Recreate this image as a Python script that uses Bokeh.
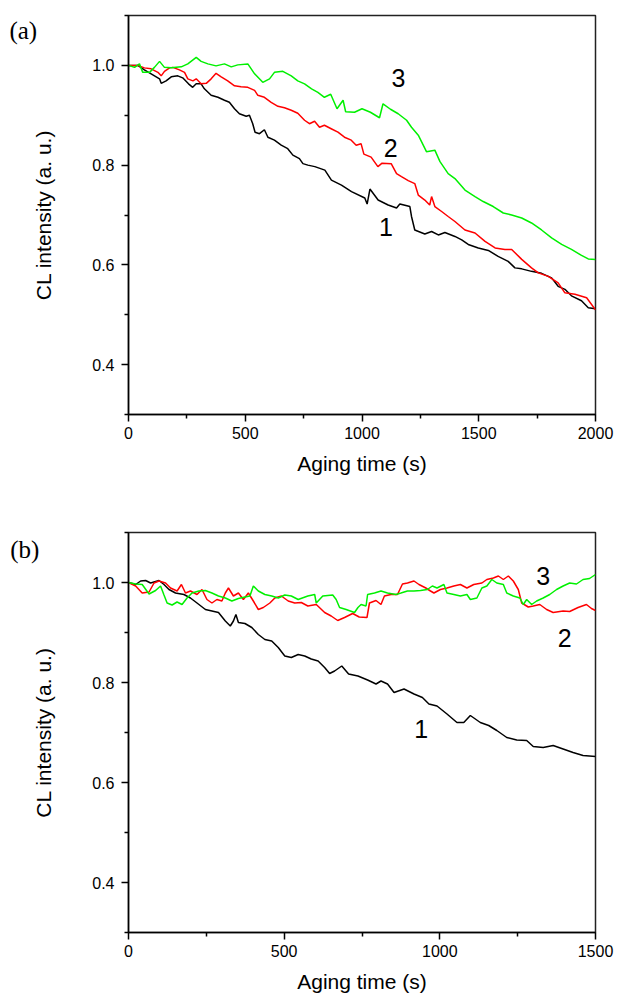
from bokeh.plotting import figure
from bokeh.layouts import column
from bokeh.models import FixedTicker, Range1d, Label, PrintfTickFormatter
from bokeh.embed import file_html
from bokeh.resources import INLINE
from bokeh.core.properties import value

# ---------------- Panel (a) data ----------------
a1_t = [0, 40, 68, 97, 133, 140, 161, 183, 211, 232, 257, 275, 290, 311, 325, 354, 383, 411, 432, 454,
        475, 504, 518, 532, 542, 561, 582, 597, 625, 654, 682, 704, 732, 747, 768, 798, 841, 869, 912, 955,
        1012, 1022, 1034, 1069, 1112, 1148, 1162, 1205, 1212, 1226, 1269, 1298, 1327, 1355, 1398, 1427, 1455,
        1498, 1541, 1583, 1626, 1655, 1684, 1726, 1769, 1812, 1840, 1869, 1897, 1940, 1969, 2000]
a1_v = [1.0, 1.0, 0.991, 0.983, 0.973, 0.964, 0.969, 0.977, 0.979, 0.975, 0.963, 0.956, 0.963, 0.963, 0.953,
        0.940, 0.936, 0.930, 0.926, 0.913, 0.903, 0.898, 0.900, 0.883, 0.866, 0.863, 0.871, 0.856, 0.850,
        0.840, 0.833, 0.820, 0.813, 0.803, 0.800, 0.797, 0.790, 0.770, 0.760, 0.747, 0.734, 0.722, 0.752,
        0.730, 0.720, 0.714, 0.722, 0.717, 0.697, 0.670, 0.662, 0.667, 0.660, 0.665, 0.657, 0.650, 0.641,
        0.634, 0.629, 0.617, 0.607, 0.594, 0.592, 0.587, 0.583, 0.574, 0.557, 0.551, 0.538, 0.528, 0.514, 0.512]

a2_t = [0, 40, 68, 97, 126, 140, 154, 176, 190, 218, 240, 254, 276, 290, 311, 333, 354, 375, 397, 425, 454,
        482, 511, 540, 554, 582, 611, 640, 668, 697, 725, 754, 775, 797, 818, 839, 868, 897, 925, 954, 975,
        996, 1008, 1039, 1068, 1086, 1125, 1148, 1169, 1198, 1226, 1241, 1269, 1290, 1298, 1312, 1341, 1369,
        1398, 1441, 1484, 1527, 1570, 1612, 1641, 1684, 1726, 1755, 1798, 1840, 1869, 1912, 1962, 2000]
a2_v = [1.0, 1.0, 0.995, 0.993, 0.986, 0.979, 0.988, 0.995, 0.996, 0.991, 0.986, 0.973, 0.969, 0.973, 0.963,
        0.964, 0.973, 0.984, 0.977, 0.969, 0.959, 0.957, 0.956, 0.950, 0.940, 0.936, 0.926, 0.918, 0.915,
        0.910, 0.904, 0.890, 0.883, 0.888, 0.876, 0.880, 0.873, 0.866, 0.856, 0.850, 0.840, 0.843, 0.822,
        0.816, 0.797, 0.804, 0.803, 0.783, 0.777, 0.769, 0.763, 0.740, 0.730, 0.720, 0.737, 0.717, 0.707,
        0.697, 0.687, 0.670, 0.664, 0.647, 0.634, 0.631, 0.631, 0.611, 0.594, 0.584, 0.577, 0.564, 0.544,
        0.541, 0.534, 0.510]

a3_t = [0, 26, 47, 61, 90, 111, 133, 154, 183, 226, 254, 290, 311, 340, 375, 411, 440, 468, 511, 540, 575,
        604, 625, 661, 697, 725, 754, 784, 811, 839, 866, 893, 919, 930, 968, 1000, 1036, 1075, 1090, 1122,
        1155, 1191, 1212, 1241, 1276, 1312, 1334, 1369, 1398, 1441, 1484, 1519, 1562, 1605, 1641, 1684, 1726,
        1769, 1812, 1855, 1897, 1940, 1969, 2000]
a3_v = [1.0, 0.996, 1.003, 0.986, 0.986, 0.996, 1.008, 0.996, 0.995, 0.997, 1.003, 1.016, 1.008, 1.003, 0.999,
        1.003, 0.997, 1.001, 1.003, 0.983, 0.966, 0.973, 0.986, 0.988, 0.979, 0.969, 0.963, 0.953, 0.946,
        0.936, 0.942, 0.913, 0.930, 0.907, 0.906, 0.913, 0.906, 0.895, 0.923, 0.912, 0.903, 0.890, 0.876,
        0.860, 0.827, 0.830, 0.807, 0.783, 0.773, 0.750, 0.737, 0.727, 0.717, 0.704, 0.700, 0.694, 0.684,
        0.670, 0.654, 0.641, 0.631, 0.619, 0.612, 0.611]

# ---------------- Panel (b) data ----------------
b1_t = [0, 23, 39, 55, 71, 98, 114, 130, 151, 178, 199, 220, 247, 268, 289, 311, 327, 337, 345, 353, 374, 396,
        417, 438, 460, 481, 502, 523, 545, 566, 587, 609, 630, 646, 662, 685, 707, 737, 768, 795, 811, 832,
        853, 885, 917, 944, 965, 991, 1023, 1055, 1077, 1098, 1130, 1157, 1183, 1215, 1247, 1279, 1300, 1332,
        1364, 1396, 1428, 1460, 1500]
b1_v = [1.0, 0.996, 1.003, 1.004, 0.999, 1.004, 0.996, 0.986, 0.979, 0.976, 0.969, 0.959, 0.946, 0.943, 0.940,
        0.923, 0.913, 0.923, 0.936, 0.920, 0.918, 0.910, 0.896, 0.886, 0.883, 0.870, 0.853, 0.850, 0.856,
        0.853, 0.847, 0.843, 0.830, 0.818, 0.823, 0.833, 0.817, 0.813, 0.805, 0.797, 0.803, 0.797, 0.780,
        0.787, 0.777, 0.770, 0.757, 0.753, 0.737, 0.720, 0.720, 0.734, 0.720, 0.714, 0.704, 0.690, 0.685,
        0.684, 0.672, 0.670, 0.674, 0.667, 0.660, 0.654, 0.652]

b2_t = [0, 23, 44, 66, 82, 98, 119, 135, 156, 170, 183, 199, 220, 236, 252, 268, 284, 300, 311, 321, 337, 353,
        369, 385, 401, 417, 433, 454, 470, 491, 513, 534, 555, 576, 603, 630, 651, 672, 694, 720, 741, 766,
        774, 795, 811, 822, 843, 864, 880, 896, 917, 933, 955, 970, 981, 1002, 1023, 1045, 1066, 1087, 1109,
        1135, 1151, 1172, 1188, 1204, 1220, 1236, 1252, 1263, 1284, 1300, 1321, 1343, 1364, 1396, 1417, 1444,
        1471, 1487, 1500]
b2_v = [1.0, 0.993, 0.979, 0.981, 0.999, 1.003, 0.999, 0.989, 0.983, 0.996, 0.979, 0.983, 0.976, 0.986, 0.966,
        0.959, 0.966, 0.963, 0.979, 0.989, 0.973, 0.979, 0.966, 0.979, 0.963, 0.946, 0.950, 0.959, 0.969,
        0.973, 0.963, 0.959, 0.960, 0.953, 0.956, 0.940, 0.933, 0.924, 0.930, 0.938, 0.931, 0.930, 0.959,
        0.964, 0.956, 0.973, 0.976, 0.976, 0.997, 0.999, 1.003, 0.996, 0.989, 0.983, 0.979, 0.986, 0.989,
        0.993, 0.996, 0.989, 0.996, 0.999, 1.006, 1.009, 1.013, 1.006, 1.013, 1.003, 0.986, 0.959, 0.951,
        0.953, 0.956, 0.946, 0.940, 0.943, 0.942, 0.950, 0.956, 0.948, 0.944]

b3_t = [0, 23, 44, 66, 87, 103, 114, 124, 140, 156, 172, 188, 204, 226, 247, 268, 289, 311, 332, 353, 374, 390,
        401, 417, 438, 460, 481, 502, 523, 545, 576, 598, 603, 624, 656, 667, 678, 699, 726, 737, 747, 763,
        768, 790, 811, 832, 859, 875, 896, 917, 938, 960, 976, 991, 1013, 1023, 1045, 1066, 1087, 1098, 1119,
        1135, 1151, 1167, 1183, 1204, 1215, 1236, 1257, 1268, 1279, 1295, 1311, 1332, 1353, 1375, 1396, 1417,
        1439, 1460, 1481, 1500]
b3_v = [1.0, 0.997, 0.996, 0.977, 0.984, 0.993, 0.975, 0.959, 0.955, 0.961, 0.956, 0.969, 0.979, 0.983, 0.984,
        0.979, 0.973, 0.969, 0.963, 0.968, 0.971, 0.973, 0.993, 0.983, 0.976, 0.973, 0.969, 0.975, 0.973,
        0.966, 0.973, 0.976, 0.959, 0.973, 0.975, 0.966, 0.950, 0.946, 0.940, 0.950, 0.956, 0.953, 0.976,
        0.979, 0.983, 0.979, 0.976, 0.979, 0.983, 0.983, 0.984, 0.986, 0.993, 0.989, 0.996, 0.979, 0.976,
        0.973, 0.976, 0.966, 0.969, 0.989, 0.993, 1.006, 0.999, 0.996, 0.979, 0.973, 0.969, 0.956, 0.966,
        0.956, 0.963, 0.969, 0.976, 0.986, 0.993, 0.999, 0.997, 1.006, 1.008, 1.016]

# ticks / labels
y_major = [0.4, 0.6, 0.8, 1.0]
y_minor = [0.3, 0.5, 0.7, 0.9, 1.1]
a_x_major = [0, 500, 1000, 1500, 2000]
a_x_minor = [250, 750, 1250, 1750]
b_x_major = [0, 500, 1000, 1500]
b_x_minor = [250, 750, 1250]

a_curve_labels = ["1", "2", "3"]
a_label_x = [1103, 1123, 1156]
a_label_y = [0.676, 0.835, 0.975]
b_curve_labels = ["1", "2", "3"]
b_label_x = [940, 1401, 1332]
b_label_y = [0.708, 0.889, 1.014]

colors = ["#000000", "#ff0000", "#00f000"]

SANS = "Liberation Sans"
SERIF = "Liberation Serif"


def make_panel(xmax, x_major, x_minor, series, lab_x, lab_y, labels, panel_tag, tag_x, tag_y,
               height, top, bottom):
    p = figure(width=617, height=height, output_backend="svg", toolbar_location=None,
               x_range=Range1d(0, xmax), y_range=Range1d(0.3, 1.1),
               min_border_left=127, min_border_right=22, min_border_top=top, min_border_bottom=bottom)
    p.xgrid.visible = False
    p.ygrid.visible = False
    p.outline_line_color = "#222222"
    p.outline_line_width = 1.5
    p.background_fill_color = "white"
    p.border_fill_color = "white"

    for (t, v), c in zip(series, colors):
        p.line(t, v, line_color=c, line_width=1.5)

    p.text(x=lab_x, y=lab_y, text=labels, text_font=value(SANS), text_font_size="25px",
           text_align="center", text_baseline="middle", text_color="black")

    p.xaxis.ticker = FixedTicker(ticks=x_major, minor_ticks=x_minor)
    p.yaxis.ticker = FixedTicker(ticks=y_major, minor_ticks=y_minor)
    p.yaxis.formatter = PrintfTickFormatter(format="%.1f")
    for ax in (p.xaxis[0], p.yaxis[0]):
        ax.axis_line_width = 1.5
        ax.axis_line_color = "black"
        ax.major_tick_line_width = 1.5
        ax.minor_tick_line_width = 1.5
        ax.major_tick_in = 0
        ax.major_tick_out = 7
        ax.minor_tick_in = 0
        ax.minor_tick_out = 4
        ax.major_label_text_font = SANS
        ax.major_label_text_font_size = "16px"
        ax.major_label_text_color = "black"
        ax.axis_label_text_font = SANS
        ax.axis_label_text_font_size = "21px"
        ax.axis_label_text_font_style = "normal"
        ax.axis_label_text_color = "black"
    p.xaxis.axis_label = "Aging time (s)"
    p.yaxis.axis_label = "CL intensity (a. u.)"
    p.xaxis.major_label_standoff = 5
    p.xaxis.axis_label_standoff = 10
    p.yaxis.major_label_standoff = 7
    p.yaxis.axis_label_standoff = 34

    # panel tag, placed in the left side panel so it is not clipped to the frame
    p.add_layout(Label(x=tag_x, y=tag_y, text=panel_tag, text_font=SERIF, text_font_size="25px",
                       text_align="left", text_baseline="top", text_color="black"), "left")
    return p


pa = make_panel(2000, a_x_major, a_x_minor,
                [(a1_t, a1_v), (a2_t, a2_v), (a3_t, a3_v)],
                a_label_x, a_label_y, a_curve_labels, "(a)", -510, 1.096,
                height=500, top=15, bottom=86)
pb = make_panel(1500, b_x_major, b_x_minor,
                [(b1_t, b1_v), (b2_t, b2_v), (b3_t, b3_v)],
                b_label_x, b_label_y, b_curve_labels, "(b)", -380, 1.094,
                height=501, top=32, bottom=69)

layout = column(pa, pb, spacing=0)
open("out.html", "w").write(file_html(layout, INLINE))
